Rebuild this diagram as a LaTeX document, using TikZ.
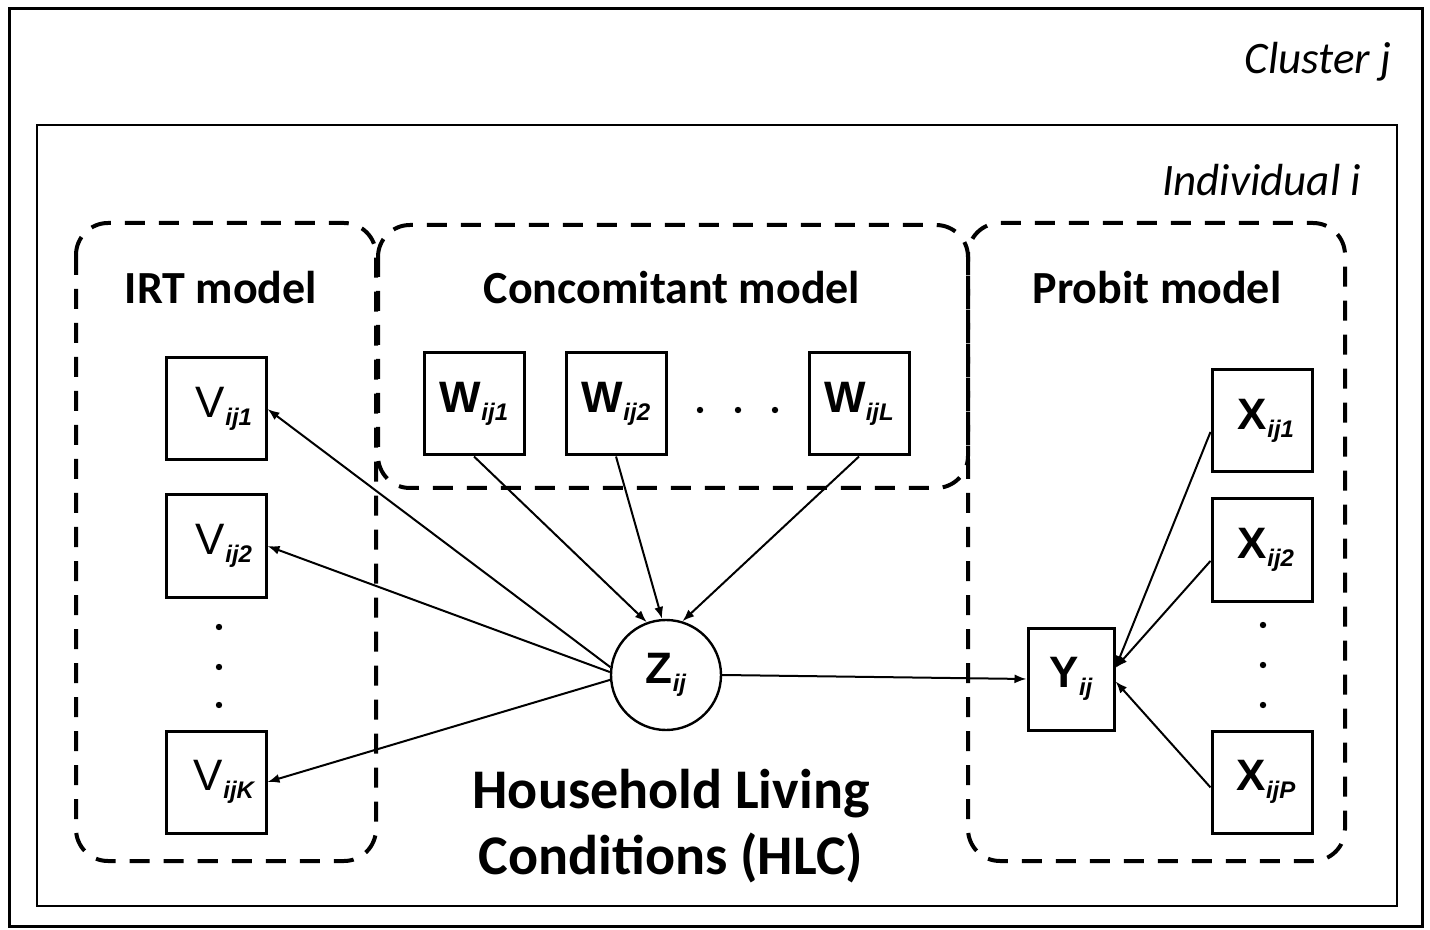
\documentclass[tikz,border=0pt]{standalone}
\usepackage{fontspec}
\setmainfont{Carlito}
\newfontfamily\boxfont{Liberation Sans}
\usetikzlibrary{arrows.meta}

\newcommand{\varlab}[2]{#1\raisebox{-4pt}{\fontsize{12}{12}\selectfont\bfseries\itshape #2}}

\tikzset{
  varbox/.style={draw, line width=1.5pt, minimum width=50pt, minimum height=51pt, inner sep=0pt,
    font=\boxfont\bfseries\fontsize{22}{22}\selectfont},
  vbox/.style={varbox, font=\boxfont\fontsize{22}{22}\selectfont, text width=50pt, align=center,
    text depth=0pt},
  latent/.style={draw, circle, line width=1.2pt, minimum size=55pt, inner sep=0pt,
    font=\boxfont\bfseries\fontsize{22}{22}\selectfont},
  modelbox/.style={line width=2pt, dash pattern=on 10pt off 7pt, rounded corners=16pt},
  title/.style={font=\bfseries\fontsize{23}{23}\selectfont},
  level/.style={font=\itshape\fontsize{22.5}{22.5}\selectfont, anchor=east},
  link/.style={-{Latex[length=6pt,width=4.5pt]}, line width=1pt},
}

\begin{document}
\begin{tikzpicture}[x=0.5pt,y=-0.5pt]
\useasboundingbox (0,0) rectangle (1430,930);
%%
  % Frames: cluster and individual
  \draw [line width=1.5pt] (9,9) rectangle (1422,926);
  \draw [line width=1.2pt] (37,125) rectangle (1397,906);
  \node [level] (cluster) at (1398,62) {Cluster j};
  \node [level] (indiv) at (1368,180) {Individual i};
%%
  % Model frames
  \draw [modelbox] (76,223) rectangle (376,861);
  \draw [modelbox] (378,225) rectangle (968,488);
  \draw [modelbox] (968,223) rectangle (1345,861);
  \node [title] (irt) at (221,288) {IRT model};
  \node [title] (conc) at (672,288) {Concomitant model};
  \node [title] (probit) at (1157,288) {Probit model};
%%
  % Node: Z
  \node [latent] (Z) at (666,675) {\varlab{Z}{ij}};
  \node [align=center, font=\bfseries\fontsize{28}{33}\selectfont] (hlc) at (671,826)
    {Household Living\\Conditions (HLC)};
  % Nodes: V
  \node [varbox, font=\boxfont\fontsize{22}{22}\selectfont] (V1) at (216,409) {\hspace*{8pt}\varlab{V}{ij1}};
  \node [varbox, font=\boxfont\fontsize{22}{22}\selectfont] (V2) at (216,546) {\hspace*{8pt}\varlab{V}{ij2}};
  \node [varbox, font=\boxfont\fontsize{22}{22}\selectfont] (VK) at (216,782) {\hspace*{8pt}\varlab{V}{ijK}};
  % Nodes: W
  \node [varbox] (W1) at (474,404) {\varlab{W}{ij1}};
  \node [varbox] (W2) at (616,404) {\varlab{W}{ij2}};
  \node [varbox] (WL) at (859,404) {\varlab{W}{ijL}};
  % Node: Y
  \node [varbox, minimum width=43pt] (Y) at (1071,679) {\varlab{Y}{ij}};
  % Nodes: X
  \node [varbox] (X1) at (1262,421) {\hspace*{4pt}\varlab{X}{ij1}};
  \node [varbox] (X2) at (1262,550) {\hspace*{4pt}\varlab{X}{ij2}};
  \node [varbox] (XP) at (1262,782) {\hspace*{4pt}\varlab{X}{ijP}};
%%
  % Dots
  \foreach \y in {627,667,705} \fill (219,\y) circle (1.6pt);
  \foreach \x in {700,738,775} \fill (\x,410) circle (1.6pt);
  \foreach \y in {625,665,705} \fill (1263,\y) circle (1.6pt);
%%
  % Edges: Z -> V
  \draw [link] (Z.172) -- (V1.east);
  \draw [link] (Z.177) -- (V2.east);
  \draw [link] (Z.185) -- (VK.east);
  % Edges: W -> Z
  \draw [link] (W1.south) -- (Z.110);
  \draw [link] (W2.south) -- (Z.94);
  \draw [link] (WL.south) -- (Z.73);
  % Edge: Z -> Y
  \draw [link] (Z.east) -- (Y.west);
  % Edges: X -> Y
  \draw [link] (X1.192) -- (Y.14);
  \draw [link] (X2.192) -- (Y.14);
  \draw [link] (XP.186) -- (Y.-3);
%
\end{tikzpicture}
\end{document}
